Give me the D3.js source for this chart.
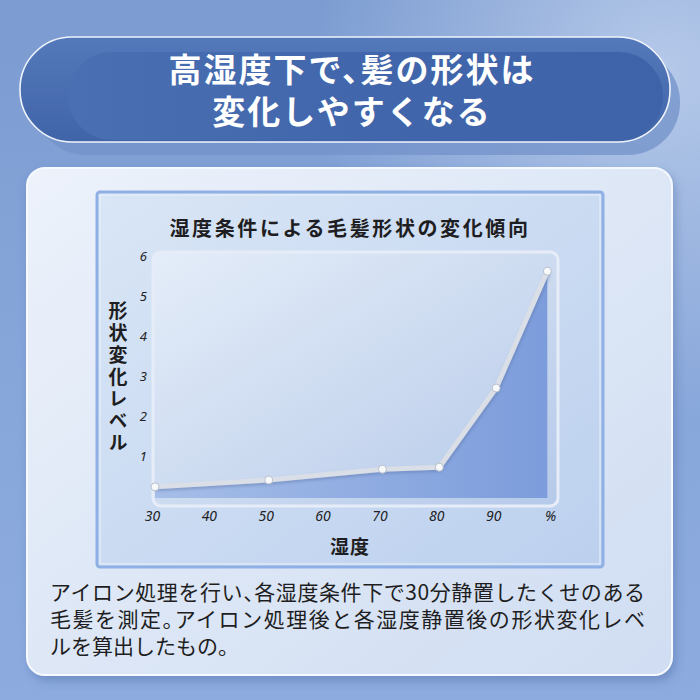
<!DOCTYPE html>
<html>
<head>
<meta charset="utf-8">
<script src="https://cdn.jsdelivr.net/npm/d3@7"></script>
<style>
  html, body { margin: 0; padding: 0; background: #84a3d6; }
  svg { display: block; }
  text { font-family: "Noto Sans CJK JP", "Noto Sans", sans-serif; }
</style>
</head>
<body>
<svg id="chart" width="700" height="700"></svg>
<script>
// data
var humidity = [30, 50, 70, 80, 90, 99];
var level = [0.23, 0.40, 0.67, 0.72, 2.70, 5.62];
var xTicks = [30, 40, 50, 60, 70, 80, 90, 100];
var xTickLabels = ["30", "40", "50", "60", "70", "80", "90", "%"];
var yTicks = [1, 2, 3, 4, 5, 6];

var titleLines = ["高湿度下で、髪の形状は", "変化しやすくなる"];
var chartTitle = "湿度条件による毛髪形状の変化傾向";
var yLabel = "形状変化レベル";
var xLabel = "湿度";
var noteLines = [
  "アイロン処理を行い、各湿度条件下で30分静置したくせのある",
  "毛髪を測定。アイロン処理後と各湿度静置後の形状変化レベ",
  "ルを算出したもの。"
];

var svg = d3.select("svg#chart");
var defs = svg.append("defs");

function linGrad(id, x1, y1, x2, y2, stops) {
  var g = defs.append("linearGradient").attr("id", id)
      .attr("x1", x1).attr("y1", y1).attr("x2", x2).attr("y2", y2);
  stops.forEach(function(s) {
    g.append("stop").attr("offset", s[0]).attr("stop-color", s[1]).attr("stop-opacity", s[2] == null ? 1 : s[2]);
  });
}

linGrad("bg", 0, 0, 0, 1, [[0, "#7c9cd1"], [0.5, "#86a5d9"], [1, "#8dabdf"]]);
linGrad("pill", 0, 0, 0, 1, [[0, "#5479ba"], [1, "#4064a8"]]);
linGrad("pillInner", 0, 0, 1, 0, [[0, "#4a6fb2"], [0.5, "#4166ab"], [1, "#3e63a8"]]);
linGrad("card", 0, 0, 1, 1, [[0, "#edf2fb"], [0.5, "#dde7f6"], [1, "#d0ddf2"]]);
linGrad("panel", 0, 0, 1, 1, [[0, "#d9e6f6"], [1, "#bcd0ee"]]);
linGrad("plotBg", 0, 0, 1, 1, [[0, "#e4edf9"], [0.6, "#c9d8ef"], [1, "#b5c9ea"]]);
linGrad("areaFill", 0, 0, 1, 0, [[0, "#a6bee8"], [1, "#7c9cdb"]]);

var rad = defs.append("radialGradient").attr("id", "glow")
    .attr("cx", 0.95).attr("cy", 0.1).attr("r", 0.5);
rad.append("stop").attr("offset", 0).attr("stop-color", "#c3d4ef").attr("stop-opacity", 0.8);
rad.append("stop").attr("offset", 1).attr("stop-color", "#c3d4ef").attr("stop-opacity", 0);

var sh = defs.append("filter").attr("id", "shadow").attr("x", "-10%").attr("y", "-10%").attr("width", "130%").attr("height", "130%");
sh.append("feDropShadow").attr("dx", 3).attr("dy", 5).attr("stdDeviation", 5)
    .attr("flood-color", "#3a5a96").attr("flood-opacity", 0.35);

var lsh = defs.append("filter").attr("id", "lineShadow").attr("x", "-10%").attr("y", "-10%").attr("width", "120%").attr("height", "120%");
lsh.append("feDropShadow").attr("dx", 1).attr("dy", 2).attr("stdDeviation", 1.5)
    .attr("flood-color", "#5a74a6").attr("flood-opacity", 0.45);

// background
svg.append("rect").attr("width", 700).attr("height", 700).attr("fill", "url(#bg)");
svg.append("rect").attr("width", 700).attr("height", 700).attr("fill", "url(#glow)");

// title pill
svg.append("rect").attr("x", 34).attr("y", 50).attr("width", 646).attr("height", 105).attr("rx", 52)
    .attr("fill", "#7391c9").attr("opacity", 0.75);
svg.append("rect").attr("x", 20).attr("y", 37).attr("width", 650).attr("height", 105).attr("rx", 52)
    .attr("fill", "url(#pill)").attr("stroke", "#eef3fb").attr("stroke-width", 1.6);
svg.append("rect").attr("x", 68).attr("y", 52).attr("width", 595).attr("height", 88).attr("rx", 44)
    .attr("fill", "url(#pillInner)");

var title = svg.append("text")
    .attr("text-anchor", "middle")
    .attr("fill", "#ffffff")
    .style("font-size", "33px")
    .style("font-weight", "700")
    .style("font-feature-settings", "'halt' 1")
    .style("letter-spacing", "2px");
title.selectAll("tspan")
  .data(titleLines)
  .enter().append("tspan")
    .attr("x", 352)
    .attr("y", function(d, i) { return 82 + i * 42; })
    .text(function(d) { return d; });

// glass card
svg.append("rect").attr("x", 27).attr("y", 168).attr("width", 645).attr("height", 507).attr("rx", 18)
    .attr("fill", "url(#card)").attr("stroke", "#f6f9ff").attr("stroke-width", 2)
    .attr("filter", "url(#shadow)");

// inner panel
svg.append("rect").attr("x", 97).attr("y", 192).attr("width", 506).attr("height", 375).attr("rx", 3)
    .attr("fill", "url(#panel)").attr("stroke", "#8fb0e4").attr("stroke-width", 3);
svg.append("rect").attr("x", 100).attr("y", 195).attr("width", 500).attr("height", 369)
    .attr("fill", "none").attr("stroke", "#eaf1fb").attr("stroke-width", 1.2).attr("opacity", 0.9);

svg.append("text")
    .attr("x", 350).attr("y", 236)
    .attr("text-anchor", "middle")
    .attr("fill", "#1e1e22")
    .style("font-size", "20px")
    .style("font-weight", "700")
    .style("letter-spacing", "2.6px")
    .text(chartTitle);

// plot frame
svg.append("rect").attr("x", 153).attr("y", 252).attr("width", 405).attr("height", 254).attr("rx", 8)
    .attr("fill", "url(#plotBg)").attr("stroke", "#e6edf8").attr("stroke-width", 3);

var x = d3.scaleLinear().domain([30, 100]).range([155, 553]);
var y = d3.scaleLinear().domain([0, 6]).range([496, 256]);

var data = humidity.map(function(h, i) { return {h: h, v: level[i]}; });

var area = d3.area()
    .x(function(d) { return x(d.h); })
    .y0(y(-0.05))
    .y1(function(d) { return y(d.v); });

svg.append("path").datum(data)
    .attr("d", area)
    .attr("fill", "url(#areaFill)");

var line = d3.line()
    .x(function(d) { return x(d.h); })
    .y(function(d) { return y(d.v); });

svg.append("path").datum(data)
    .attr("d", line)
    .attr("fill", "none")
    .attr("stroke", "#d9dee7")
    .attr("stroke-width", 5)
    .attr("stroke-linejoin", "round")
    .attr("filter", "url(#lineShadow)");

svg.append("g").selectAll("circle")
  .data(data)
  .enter().append("circle")
    .attr("cx", function(d) { return x(d.h); })
    .attr("cy", function(d) { return y(d.v); })
    .attr("r", 4)
    .attr("fill", "#f8f9fb")
    .attr("stroke", "#b9c0cc")
    .attr("stroke-width", 1);

// axes
var xAxis = svg.append("g")
    .attr("transform", "translate(0,505)")
    .call(d3.axisBottom(x).tickValues(xTicks).tickSize(0).tickPadding(6)
      .tickFormat(function(d, i) { return xTickLabels[i]; }));
xAxis.select(".domain").remove();
xAxis.selectAll("text")
    .attr("dx", -3)
    .attr("fill", "#222")
    .style("font-family", "'Noto Sans', sans-serif")
    .style("font-style", "italic")
    .style("font-size", "14px");

var yAxis = svg.append("g")
    .attr("transform", "translate(147,0)")
    .call(d3.axisLeft(y).tickValues(yTicks).tickSize(0).tickPadding(0).tickFormat(d3.format("d")));
yAxis.select(".domain").remove();
yAxis.selectAll("text")
    .attr("fill", "#222")
    .style("font-family", "'Noto Sans', sans-serif")
    .style("font-style", "italic")
    .style("font-size", "13px");

svg.append("text")
    .attr("x", 118).attr("y", 301)
    .attr("writing-mode", "vertical-rl")
    .attr("fill", "#1e1e22")
    .style("font-size", "19px")
    .style("font-weight", "700")
    .style("letter-spacing", "3px")
    .text(yLabel);

svg.append("text")
    .attr("x", 350).attr("y", 554)
    .attr("text-anchor", "middle")
    .attr("fill", "#1e1e22")
    .style("font-size", "19px")
    .style("font-weight", "700")
    .style("letter-spacing", "1px")
    .text(xLabel);

// footnote: first two lines run the full width of the card
var note = svg.append("text")
    .attr("fill", "#1e1e22")
    .style("font-size", "21px")
    .style("font-feature-settings", "'halt' 1");
note.selectAll("tspan")
  .data(noteLines)
  .enter().append("tspan")
    .attr("x", 50)
    .attr("y", function(d, i) { return 600 + i * 27; })
    .attr("textLength", function(d, i) { return i < 2 ? 595 : null; })
    .attr("lengthAdjust", "spacing")
    .text(function(d) { return d; });
</script>
</body>
</html>
